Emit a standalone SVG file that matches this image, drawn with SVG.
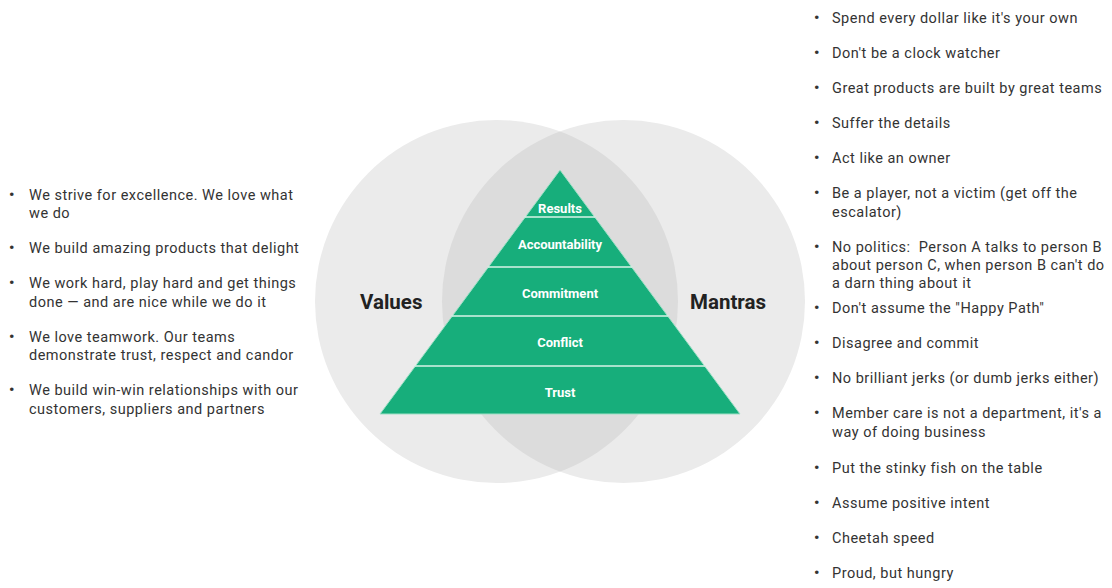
<svg xmlns="http://www.w3.org/2000/svg" width="1112" height="588" viewBox="0 0 1112 588">
<defs>
<clipPath id="clipL"><circle cx="496.5" cy="301.5" r="181.5"/></clipPath>
</defs>
<style>
.txt{font-family:Roboto,"Liberation Sans",sans-serif;font-size:14.5px;letter-spacing:0.5px;fill:#333;}
.bul{font-size:15px;font-weight:bold;}
.lbl{font-family:Roboto,"Liberation Sans",sans-serif;font-size:13px;font-weight:bold;fill:#fff;text-anchor:middle;}
.head{font-family:Roboto,"Liberation Sans",sans-serif;font-size:20.5px;font-weight:bold;fill:#222;}
.div{stroke:#d8f3e7;stroke-width:1.5;}
</style>
<rect width="1112" height="588" fill="#fff"/>
<g id="venn">
<circle cx="496.5" cy="301.5" r="181.5" fill="#ebebeb"/>
<circle cx="623.5" cy="301.5" r="181.5" fill="#ebebeb"/>
<circle cx="623.5" cy="301.5" r="181.5" fill="#dcdcdc" clip-path="url(#clipL)"/>
</g>
<g id="pyramid">
<polygon points="560,170 380,414 740,414" fill="#17ae7b" stroke="#9fe0c6" stroke-width="1"/>
<line class="div" x1="524.5" y1="217" x2="595.5" y2="217"/>
<line class="div" x1="487.6" y1="267" x2="632.4" y2="267"/>
<line class="div" x1="451.5" y1="316" x2="668.5" y2="316"/>
<line class="div" x1="414.6" y1="366" x2="705.4" y2="366"/>
<text class="lbl" x="560" y="212.5">Results</text>
<text class="lbl" x="560" y="248.5">Accountability</text>
<text class="lbl" x="560" y="297.5">Commitment</text>
<text class="lbl" x="560" y="346.5">Conflict</text>
<text class="lbl" x="560" y="396.5">Trust</text>
</g>
<g id="values-label"><text class="head" x="360" y="309">Values</text></g>
<g id="mantras-label"><text class="head" x="690" y="309">Mantras</text></g>
<g id="values-list" class="txt">
<text class="bul" x="9" y="200">•</text><text x="29" y="200">We strive for excellence. We love what</text>
<text x="29" y="218">we do</text>
<text class="bul" x="9" y="253">•</text><text x="29" y="253">We build amazing products that delight</text>
<text class="bul" x="9" y="288">•</text><text x="29" y="288">We work hard, play hard and get things</text>
<text x="29" y="307">done — and are nice while we do it</text>
<text class="bul" x="9" y="342">•</text><text x="29" y="342">We love teamwork. Our teams</text>
<text x="29" y="360">demonstrate trust, respect and candor</text>
<text class="bul" x="9" y="395">•</text><text x="29" y="395">We build win-win relationships with our</text>
<text x="29" y="414">customers, suppliers and partners</text>
</g>
<g id="mantras-list" class="txt">
<text class="bul" x="814" y="23">•</text><text x="832" y="23">Spend every dollar like it's your own</text>
<text class="bul" x="814" y="58">•</text><text x="832" y="58">Don't be a clock watcher</text>
<text class="bul" x="814" y="93">•</text><text x="832" y="93">Great products are built by great teams</text>
<text class="bul" x="814" y="128">•</text><text x="832" y="128">Suffer the details</text>
<text class="bul" x="814" y="163">•</text><text x="832" y="163">Act like an owner</text>
<text class="bul" x="814" y="198">•</text><text x="832" y="198">Be a player, not a victim (get off the</text>
<text x="832" y="217">escalator)</text>
<text class="bul" x="814" y="252">•</text><text x="832" y="252">No politics:&#160; Person A talks to person B</text>
<text x="832" y="270">about person C, when person B can't do</text>
<text x="832" y="288">a darn thing about it</text>
<text class="bul" x="814" y="313">•</text><text x="832" y="313">Don't assume the "Happy Path"</text>
<text class="bul" x="814" y="348">•</text><text x="832" y="348">Disagree and commit</text>
<text class="bul" x="814" y="383">•</text><text x="832" y="383">No brilliant jerks (or dumb jerks either)</text>
<text class="bul" x="814" y="418">•</text><text x="832" y="418">Member care is not a department, it's a</text>
<text x="832" y="437">way of doing business</text>
<text class="bul" x="814" y="473">•</text><text x="832" y="473">Put the stinky fish on the table</text>
<text class="bul" x="814" y="508">•</text><text x="832" y="508">Assume positive intent</text>
<text class="bul" x="814" y="543">•</text><text x="832" y="543">Cheetah speed</text>
<text class="bul" x="814" y="578">•</text><text x="832" y="578">Proud, but hungry</text>
</g>
</svg>
